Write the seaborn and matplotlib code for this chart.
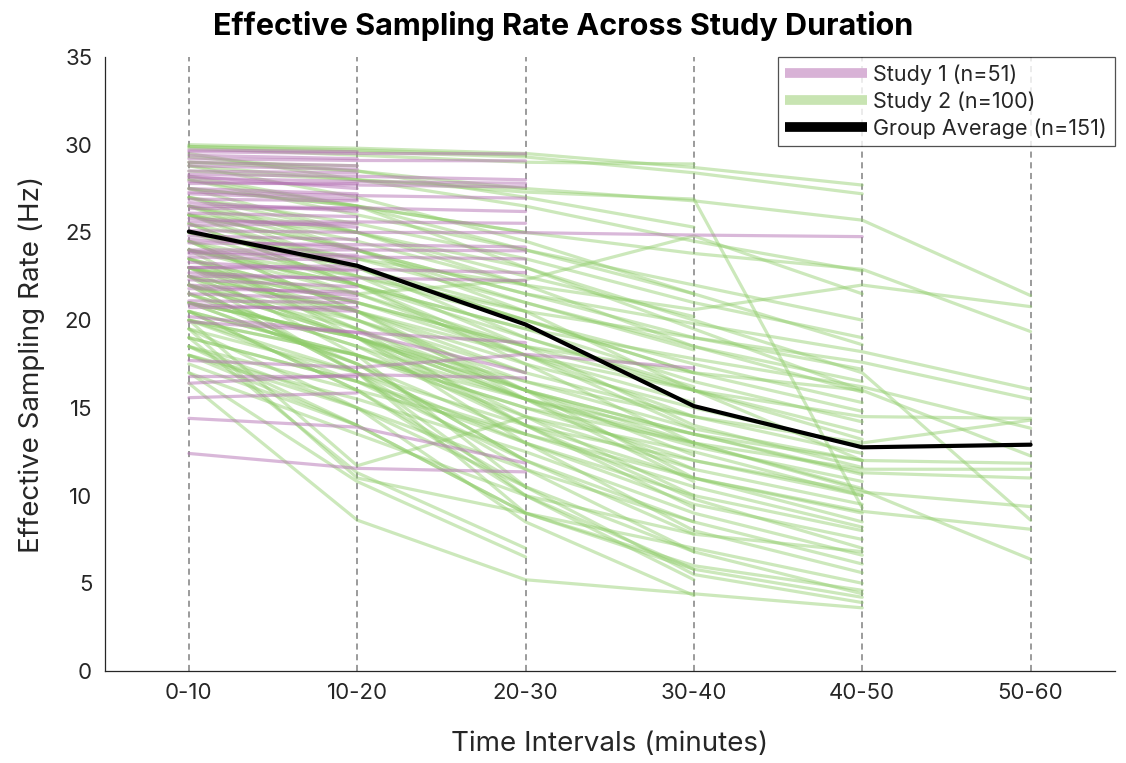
import matplotlib
matplotlib.use("Agg")
import matplotlib.pyplot as plt
import pandas as pd
import seaborn as sns
from matplotlib.lines import Line2D

intervals = ["0-10", "10-20", "20-30", "30-40", "40-50", "50-60"]

# Study 1 (n=51): one list per subject, values per interval
study1 = [
    [29.6, 29.5, 29.48], [29.2, 29.1, 29.08], [28.3, 28.2, 28.0], [28.1, 27.9, 27.8],
    [27.9, 27.7, 27.6], [27.3, 27.1, 26.95], [26.5, 26.4, 26.19], [25.6, 25.6, 25.52],
    [25.1, 25.0, 24.99, 24.85, 24.76], [24.4, 24.3, 24.17], [24.0, 24.0, 23.95],
    [23.8, 23.6, 23.49], [23.0, 22.9, 22.71], [22.5, 22.4, 22.25], [20.2, 19.3, 18.72],
    [19.9, 19.3, 17.0], [17.7, 17.3, 18.05, 17.27], [16.4, 16.9, 16.7],
    [14.4, 13.9, 11.85], [12.4, 11.55, 11.35],
    [29.7, 29.6], [29.4, 29.2], [29.0, 28.8], [28.8, 28.6], [28.5, 28.4], [28.2, 27.5],
    [27.8, 27.8], [27.5, 27.2], [27.2, 26.9], [26.9, 26.8], [26.7, 26.2], [26.4, 26.4],
    [26.1, 25.9], [25.8, 25.3], [25.4, 25.5], [24.8, 24.6], [24.6, 24.1], [23.9, 23.7],
    [23.6, 23.4], [23.3, 22.8], [23.0, 23.1], [22.7, 22.3], [22.3, 21.9], [21.8, 21.6],
    [21.5, 21.2], [21.1, 21.0], [20.9, 20.5], [20.75, 20.75], [16.82, 16.82],
    [15.58, 15.85], [22.0, 21.4],
]

# Study 2 (n=100)
study2 = [
    # reach 50-60
    [29.0, 28.5, 27.5, 26.8, 25.7, 21.4], [27.5, 26.5, 25.0, 23.8, 22.9, 19.35],
    [25.0, 23.5, 22.0, 20.6, 22.0, 20.77], [26.0, 24.0, 21.5, 19.8, 18.2, 16.06],
    [24.5, 22.5, 20.5, 19.0, 17.6, 15.5], [24.0, 22.0, 19.5, 17.8, 16.2, 13.84],
    [23.5, 21.0, 18.5, 17.0, 16.0, 12.26], [22.5, 20.5, 18.0, 16.0, 14.5, 14.4],
    [21.0, 19.0, 16.5, 14.5, 13.0, 14.3], [20.5, 18.0, 15.0, 13.0, 11.5, 11.5],
    [22.0, 19.5, 16.0, 13.5, 11.3, 11.0], [26.5, 25.0, 23.0, 20.0, 17.0, 8.6],
    [19.5, 17.0, 14.0, 12.0, 10.2, 9.37], [21.5, 18.5, 15.5, 13.0, 10.3, 6.37],
    [18.5, 16.0, 13.5, 11.0, 9.1, 8.08], [20.0, 18.0, 15.5, 13.5, 12.0, 11.84],
    # reach 40-50
    [30.0, 29.8, 29.5, 28.7, 27.7], [29.9, 29.6, 29.3, 28.4, 27.2],
    [28.5, 28.0, 27.3, 26.9, 9.3], [29.5, 28.0, 26.5, 24.5, 22.8],
    [28.0, 26.0, 24.0, 22.0, 20.0], [27.0, 25.5, 23.5, 21.0, 19.0],
    [28.8, 27.0, 24.5, 21.5, 18.6], [26.5, 24.0, 21.5, 19.0, 17.2],
    [25.5, 23.5, 21.0, 18.5, 16.5], [27.5, 25.0, 22.0, 18.5, 15.9],
    [24.0, 22.5, 20.0, 17.5, 15.3], [26.0, 23.0, 20.0, 17.0, 14.8],
    [25.0, 22.0, 19.5, 16.5, 14.2], [23.0, 21.0, 18.5, 16.0, 13.6],
    [27.0, 24.0, 20.5, 16.0, 13.2], [22.5, 20.5, 17.5, 15.0, 12.8],
    [24.5, 21.5, 18.0, 14.5, 12.4], [23.5, 20.0, 16.5, 13.8, 12.0],
    [26.0, 22.5, 18.5, 14.0, 11.6], [21.0, 19.0, 16.0, 13.5, 11.2],
    [22.0, 19.0, 15.5, 12.8, 10.8], [25.5, 22.0, 17.5, 13.0, 10.4],
    [20.5, 18.0, 15.0, 12.0, 10.0], [23.0, 19.5, 15.5, 11.5, 9.5],
    [21.5, 18.5, 14.0, 11.0, 9.0], [24.5, 20.5, 16.0, 11.0, 8.5],
    [19.0, 16.5, 13.5, 10.5, 8.2], [22.5, 19.0, 14.5, 10.0, 8.0],
    [20.0, 17.0, 13.0, 9.5, 7.5], [23.5, 19.5, 14.0, 9.8, 7.0],
    [18.0, 15.5, 12.5, 9.0, 6.6], [21.0, 17.5, 12.0, 8.5, 6.1],
    [24.0, 19.0, 13.0, 8.0, 5.6], [19.5, 11.0, 9.0, 7.0, 5.0],
    [22.0, 17.0, 11.5, 6.8, 4.4], [16.4, 8.6, 5.2, 4.4, 3.6],
    [20.5, 16.0, 10.0, 5.8, 4.2], [23.0, 18.0, 10.5, 5.5, 3.9],
    [18.5, 14.0, 9.0, 6.0, 4.6], [26.5, 23.0, 19.0, 16.0, 12.0],
    [28.0, 26.5, 23.0, 19.5, 16.0], [23.0, 21.5, 22.3, 24.8, 21.5],
    [20.0, 11.7, 14.5, 12.5, 10.0], [17.0, 13.5, 10.0, 7.8, 6.8],
    # reach 30-40
    [29.8, 29.4, 29.0, 28.9], [29.3, 28.5, 27.0, 25.3], [28.2, 26.5, 24.0, 21.5],
    [27.0, 25.0, 22.5, 20.2], [26.0, 24.0, 21.0, 18.3], [25.0, 23.0, 20.0, 17.0],
    [24.0, 22.0, 19.0, 16.2], [23.5, 21.0, 18.0, 15.3], [22.0, 20.0, 17.0, 14.5],
    [25.5, 22.0, 18.0, 13.8], [21.0, 19.0, 16.0, 13.0], [23.0, 20.0, 16.0, 12.3],
    [20.0, 18.0, 14.5, 11.5], [24.5, 20.5, 15.5, 10.8], [19.0, 16.5, 13.0, 10.0],
    [22.5, 19.0, 14.0, 9.3], [18.0, 15.0, 11.5, 8.5], [21.5, 17.5, 12.0, 7.8],
    [20.5, 16.0, 10.5, 6.8], [17.5, 14.0, 9.0, 5.8], [22.0, 17.0, 10.0, 5.2],
    [19.5, 15.0, 8.5, 4.3],
    # reach 20-30
    [29.9, 29.7, 29.4], [28.8, 28.0, 27.5], [27.5, 26.5, 25.0], [26.5, 24.5, 22.0],
    [25.0, 23.0, 20.5], [24.0, 21.5, 18.5], [23.0, 20.5, 17.0], [22.0, 19.0, 15.5],
    [21.0, 17.5, 13.5], [20.0, 16.5, 12.0], [18.5, 15.0, 10.5], [22.5, 17.0, 9.0],
    [19.0, 11.3, 7.0], [17.0, 10.8, 6.5],
    # reach 10-20
    [29.0, 28.8], [26.0, 25.0], [23.0, 21.0], [18.0, 14.0],
]

group_average = [25.05, 23.1, 19.75, 15.1, 12.75, 12.9]

rows = []
for study, subjects in (("Study 1", study1), ("Study 2", study2)):
    for i, vals in enumerate(subjects):
        for j, v in enumerate(vals):
            rows.append({"study": study, "subject": f"{study}-{i}", "interval": j, "rate": v})
df = pd.DataFrame(rows)
avg = pd.DataFrame({"interval": range(len(intervals)), "rate": group_average})

sns.set_theme(style="white")
plt.rcParams["font.family"] = ["Inter", "DejaVu Sans"]
text_color = "#262626"

fig = plt.figure(figsize=(11.26, 7.63), dpi=100)
ax = fig.add_axes([0.093, 0.1206, 0.897, 0.8047])

for k in range(len(intervals)):
    ax.axvline(k, color="#808080", ls=(0, (4, 3)), lw=1.1, zorder=0)

# Study 2 first, Study 1 drawn on top
sns.lineplot(data=df[df.study == "Study 2"], x="interval", y="rate", units="subject",
             estimator=None, color="#8fcc6a", alpha=0.45, lw=2.3, legend=False,
             ax=ax, sort=False)
sns.lineplot(data=df[df.study == "Study 1"], x="interval", y="rate", units="subject",
             estimator=None, color="#b572b5", alpha=0.5, lw=2.3, legend=False,
             ax=ax, sort=False)
sns.lineplot(data=avg, x="interval", y="rate", color="black", lw=3.0, ax=ax, legend=False)

ax.set_xlim(-0.5, 5.5)
ax.set_ylim(0, 35)
ax.set_xticks(range(len(intervals)))
ax.set_xticklabels(intervals)
ax.set_yticks(range(0, 36, 5))
ax.tick_params(axis="both", labelsize=16, colors=text_color, length=0, pad=9)
for s in ["top", "right"]:
    ax.spines[s].set_visible(False)
for s in ["left", "bottom"]:
    ax.spines[s].set_color("#262626")
    ax.spines[s].set_linewidth(0.9)

ax.set_xlabel("Time Intervals (minutes)", fontsize=20, color=text_color, labelpad=20)
ax.set_ylabel("Effective Sampling Rate (Hz)", fontsize=20, color=text_color, labelpad=14)
fig.suptitle("Effective Sampling Rate Across Study Duration", fontsize=22,
             fontweight="bold", color="black", x=0.5, y=0.985)

handles = [
    Line2D([0], [0], color="#d8b2d6", lw=7, solid_capstyle="butt"),
    Line2D([0], [0], color="#c8e4b2", lw=7, solid_capstyle="butt"),
    Line2D([0], [0], color="black", lw=7, solid_capstyle="butt"),
]
labels = ["Study 1 (n=51)", "Study 2 (n=100)", "Group Average (n=151)"]
leg = ax.legend(handles, labels, loc="upper right", fontsize=15.5, frameon=True,
                fancybox=False, edgecolor="#262626", borderaxespad=0.0,
                handlelength=3.8, handletextpad=0.3, labelspacing=0.3,
                borderpad=0.35)
leg.get_frame().set_linewidth(0.9)
for t in leg.get_texts():
    t.set_color(text_color)

fig.savefig("out.png", dpi=100)
